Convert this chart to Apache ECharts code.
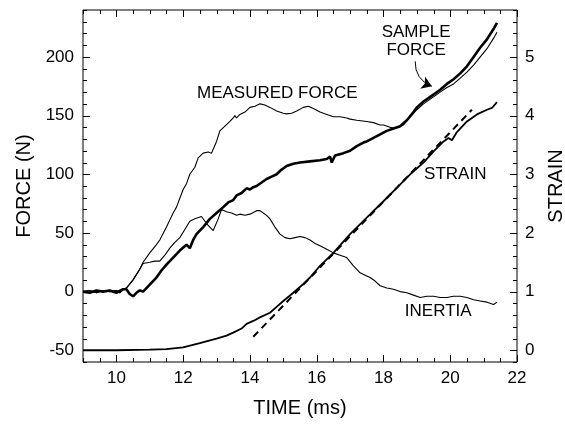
<!DOCTYPE html>
<html>
<head>
<meta charset="utf-8">
<script src="https://cdn.jsdelivr.net/npm/echarts@6/dist/echarts.min.js"></script>
<style>html,body{margin:0;padding:0;background:#fff}#c{width:565px;height:424px}</style>
</head>
<body>
<div id="c"></div>
<script>
// ---- data ----
var timeSteps = ['9','9.5','10','10.5','11','11.5','12','12.5','13','13.5','14','14.5','15','15.5',
                 '16','16.5','17','17.5','18','18.5','19','19.5','20','20.5','21','21.5','22'];
var timeTickLabels = [10, 12, 14, 16, 18, 20, 22];
var forceSteps = ['-60','-50','-40','-30','-20','-10','0','10','20','30','40','50','60','70','80','90',
                  '100','110','120','130','140','150','160','170','180','190','200','210','220','230','240'];
var forceTickLabels = [-50, 0, 50, 100, 150, 200];
var strainTickLabels = [0, 1, 2, 3, 4, 5];

var measuredForce = [
[9.0,0],[9.2,1],[9.4,-1],[9.6,1],[9.8,0],[10.0,1],[10.1,-1],[10.2,2],[10.3,3],[10.5,10],
[10.7,19],[10.8,25],[11.0,33],[11.2,40],[11.3,44],[11.5,55],[11.7,67],[11.8,72],[12.0,87],
[12.1,92],[12.2,100],[12.35,106],[12.45,114],[12.6,118],[12.75,119],[12.85,118],[13.0,128],
[13.1,137],[13.25,141],[13.4,145],[13.5,148],[13.55,150],[13.6,148],[13.7,151],[13.85,153],
[14.0,157],[14.15,158],[14.3,160],[14.45,159],[14.6,157],[14.8,154],[15.0,152],[15.1,151.5],
[15.25,152],[15.4,154],[15.6,157],[15.75,158],[15.9,156],[16.1,153],[16.3,151],[16.5,149],
[16.7,149],[16.9,148],[17.0,147],[17.2,146],[17.5,145],[17.7,144],[17.9,142],[18.0,142],
[18.2,140],[18.3,139.5],[18.45,140],[18.6,142],[18.8,149],[19.0,155],[19.2,160],[19.5,166],
[19.7,170],[19.9,174],[20.1,177],[20.3,182],[20.5,187],[20.7,193],[20.9,200],[21.1,207],
[21.3,216],[21.4,221]
];

var sampleForce = [
[9.0,0],[9.2,-1],[9.4,1],[9.6,0],[9.8,1],[10.0,-1],[10.2,2],[10.3,2],[10.4,-2],[10.5,-4],
[10.6,-1],[10.7,1],[10.8,0],[10.9,3],[11.0,6],[11.2,12],[11.35,18],[11.5,23],[11.7,29],
[11.9,35],[12.1,40],[12.2,37],[12.3,44],[12.4,49],[12.5,52],[12.6,55],[12.8,62],[13.0,67],
[13.2,72],[13.35,76],[13.5,78],[13.6,82],[13.75,84],[13.9,88],[14.0,87],[14.1,89],[14.2,90],
[14.35,93],[14.5,96],[14.65,98],[14.8,100],[14.95,104],[15.1,107],[15.3,109],[15.5,110],
[15.8,111],[16.1,112],[16.3,113],[16.4,115],[16.45,110],[16.55,116],[16.8,118],[17.0,120],
[17.2,124],[17.4,127],[17.5,128],[17.7,131],[17.9,134],[18.1,137],[18.3,139],[18.5,141],
[18.7,146],[18.9,153],[19.0,157],[19.2,162],[19.4,166],[19.7,172],[19.9,177],[20.1,181],
[20.3,186],[20.5,192],[20.7,200],[20.9,208],[21.1,215],[21.3,224],[21.4,229]
];

var inertia = [
[9.0,0],[9.2,1],[9.4,-1],[9.6,1],[9.8,0],[10.0,1],[10.1,-1],[10.2,2],[10.3,3],[10.5,10],
[10.7,19],[10.8,24],[11.0,25],[11.15,26],[11.3,26],[11.45,31],[11.6,37],[11.75,42],[11.9,46],
[12.05,53],[12.2,60],[12.35,62],[12.55,64],[12.7,58],[12.9,52],[13.05,62],[13.15,70],[13.3,68],
[13.45,67],[13.6,65],[13.7,66],[13.85,65],[14.0,66],[14.2,69],[14.3,69],[14.4,67],[14.5,65],
[14.6,62],[14.75,55],[14.9,49],[15.05,46],[15.2,45],[15.35,46],[15.5,47],[15.65,46],[15.8,44],
[15.95,41],[16.1,39],[16.3,36],[16.5,33],[16.7,31],[16.9,29],[17.1,22],[17.3,16],[17.45,14],
[17.6,12],[17.75,9],[17.9,5],[18.1,3],[18.3,2],[18.5,0],[18.7,-1],[18.9,-3],[19.1,-5],
[19.3,-4],[19.5,-4],[19.7,-5],[19.9,-5],[20.1,-4],[20.3,-4],[20.5,-5],[20.7,-7],[20.9,-8],
[21.1,-9],[21.3,-11],[21.4,-9]
];

var strain = [
[9.0,0],[10.0,0],[11.0,0.01],[11.5,0.02],[12.0,0.05],[12.5,0.12],[13.0,0.2],[13.3,0.25],
[13.5,0.3],[13.75,0.37],[13.9,0.45],[14.1,0.5],[14.3,0.56],[14.6,0.64],[14.8,0.74],[15.0,0.84],
[15.3,0.98],[15.6,1.13],[15.8,1.24],[16.1,1.44],[16.5,1.66],[17.0,1.98],[17.5,2.26],[18.0,2.54],
[18.4,2.77],[18.8,3.0],[19.2,3.2],[19.5,3.39],[19.8,3.56],[19.95,3.62],[20.05,3.58],[20.2,3.72],
[20.5,3.9],[20.8,4.02],[21.1,4.1],[21.25,4.13],[21.4,4.23]
];

var strainFit = [[14.1,0.23],[20.65,4.1]];

// annotation anchors (data coords: time, force)
var arrowPath = [[18.95,196.3],[19.45,175]];
var annotations = [
  {text:'MEASURED FORCE', at:[14.82,169.1]},
  {text:'SAMPLE\nFORCE', at:[18.98,213.4]},
  {text:'STRAIN', at:[20.15,99.7]},
  {text:'INERTIA', at:[19.64,-16.9]}
];

// ---- chart ----
var FONT = '"Liberation Sans", Arial, Helvetica, sans-serif';
var black = '#000';
var MAJOR_LEN = 7, MINOR_LEN = 4;
var chart = echarts.init(document.getElementById('c'), null, {renderer:'canvas'});

function timeFn() { return function(i, v){ return timeTickLabels.indexOf(Number(v)) >= 0; }; }
function forceFn() { return function(i, v){ return forceTickLabels.indexOf(Number(v)) >= 0; }; }

// category axes: labels at the round values
function labelAxis(pos, cats, fnMaker, showLabel, fmt, margin) {
  var label = {show:showLabel, interval:fnMaker(), color:black, fontSize:17, fontFamily:FONT, margin:margin};
  if (fmt) label.formatter = fmt;
  return {
    type:'category', position:pos, data:cats, boundaryGap:false,
    axisLine:{show:false, onZero:false}, axisTick:{show:false},
    axisLabel:label, splitLine:{show:false}
  };
}
// value axes: carry the data
function valueAxis(pos, min, max) {
  return {
    type:'value', position:pos, min:min, max:max,
    axisLine:{show:false, onZero:false}, axisTick:{show:false},
    axisLabel:{show:false}, splitLine:{show:false}
  };
}

var xLab = labelAxis('bottom', timeSteps, timeFn, true, null, 8);
xLab.name = 'TIME (ms)'; xLab.nameLocation = 'middle'; xLab.nameGap = 36;
xLab.nameTextStyle = {color:black, fontSize:20, fontFamily:FONT};

var yLabL = labelAxis('left', forceSteps, forceFn, true, null, 9);
yLabL.name = 'FORCE (N)'; yLabL.nameLocation = 'middle'; yLabL.nameGap = 44;
yLabL.nameTextStyle = {color:black, fontSize:20, fontFamily:FONT};

var yLabR = labelAxis('right', forceSteps, forceFn, true,
                      function(v){ return String((Number(v) + 50) / 50); }, 8);
yLabR.name = 'STRAIN'; yLabR.nameLocation = 'middle'; yLabR.nameGap = 29;
yLabR.nameTextStyle = {color:black, fontSize:20, fontFamily:FONT};

chart.setOption({
  animation:false,
  backgroundColor:'#fff',
  grid:{left:83, right:48, top:10, bottom:62, containLabel:false, outerBoundsMode:'none',
        show:true, borderColor:black, borderWidth:1, backgroundColor:'transparent'},
  xAxis:[ xLab, valueAxis('top', 9, 22) ],
  yAxis:[ yLabL, valueAxis('left', -60, 240), yLabR, valueAxis('right', -0.2, 5.8) ],
  series:[
    {type:'line', name:'Measured force', xAxisIndex:1, yAxisIndex:1, data:measuredForce,
     showSymbol:false, lineStyle:{color:black, width:1.1}},
    {type:'line', name:'Inertia', xAxisIndex:1, yAxisIndex:1, data:inertia,
     showSymbol:false, lineStyle:{color:black, width:1.1}},
    {type:'line', name:'Sample force', xAxisIndex:1, yAxisIndex:1, data:sampleForce,
     showSymbol:false, lineStyle:{color:black, width:2.6}},
    {type:'line', name:'Strain', xAxisIndex:1, yAxisIndex:3, data:strain,
     showSymbol:false, lineStyle:{color:black, width:1.8}},
    {type:'line', name:'Strain fit', xAxisIndex:1, yAxisIndex:3, data:strainFit,
     showSymbol:false, lineStyle:{color:black, width:2, type:[7,5]}},
    {type:'lines', coordinateSystem:'cartesian2d', xAxisIndex:1, yAxisIndex:1,
     symbol:['none','arrow'], symbolSize:10,
     lineStyle:{color:black, width:1, opacity:1, curveness:-0.35},
     itemStyle:{color:black},
     data:[{coords:arrowPath}]}
  ]
});

// ---- annotations and tick marks, placed through the chart's own scales ----
var finder = {xAxisIndex:1, yAxisIndex:1};
function toPx(pt) { return chart.convertToPixel(finder, pt); }
function crisp(p) { return Math.round(p) + 0.5; }
function tickLine(x1, y1, x2, y2) {
  return {type:'line', silent:true, z:50,
          shape:{x1:x1, y1:y1, x2:x2, y2:y2}, style:{stroke:black, lineWidth:1}};
}

var gr = annotations.map(function(a){
  var p = toPx(a.at);
  return {type:'text', x:p[0], y:p[1], style:{text:a.text, fill:black, font:'17px '+FONT,
          align:'center', verticalAlign:'middle', lineHeight:18}};
});

var lowCorner = toPx([9, -60]);
var highCorner = toPx([22, 240]);
var xl = lowCorner[0], yb = lowCorner[1], xr = highCorner[0], yt = highCorner[1];

timeSteps.forEach(function(s){
  var v = Number(s);
  var len = timeTickLabels.indexOf(v) >= 0 ? MAJOR_LEN : MINOR_LEN;
  var x = crisp(toPx([v, -60])[0]);
  gr.push(tickLine(x, yb, x, yb - len));
  gr.push(tickLine(x, yt, x, yt + len));
});
forceSteps.forEach(function(s){
  var v = Number(s);
  var len = forceTickLabels.indexOf(v) >= 0 ? MAJOR_LEN : MINOR_LEN;
  var y = crisp(toPx([9, v])[1]);
  gr.push(tickLine(xl, y, xl + len, y));
  gr.push(tickLine(xr, y, xr - len, y));
});

chart.setOption({graphic:gr});
</script>
</body>
</html>
